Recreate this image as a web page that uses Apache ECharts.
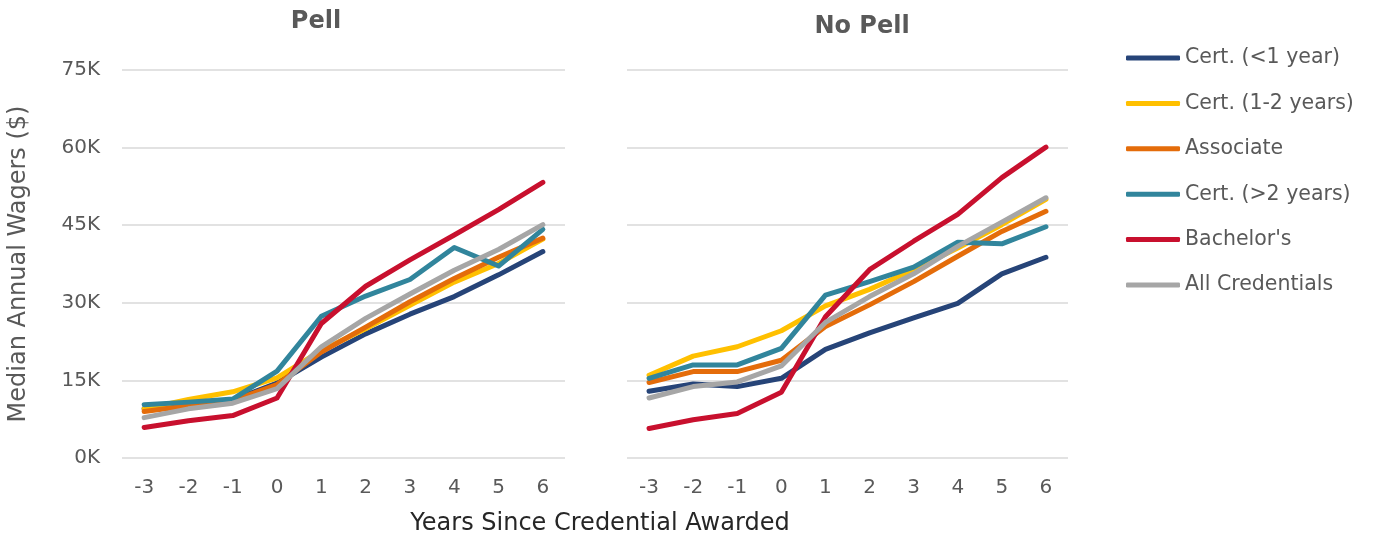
<!DOCTYPE html>
<html>
<head>
<meta charset="utf-8">
<script src="https://cdn.jsdelivr.net/npm/echarts@6/dist/echarts.min.js"></script>
<style>
  html, body { margin: 0; padding: 0; background: #fff; }
  #chart { width: 1375px; height: 543px; }
</style>
</head>
<body>
<div id="chart"></div>
<script>
// years since credential awarded
var years = ['-3', '-2', '-1', '0', '1', '2', '3', '4', '5', '6'];
var seriesNames = ['Cert. (<1 year)', 'Cert. (1-2 years)', 'Associate', 'Cert. (>2 years)', "Bachelor's", 'All Credentials'];
var colors = ['#264478', '#FFC000', '#E46C0A', '#31859C', '#C8102E', '#A6A6A6'];

// median annual wages, thousands of $ -- Pell recipients
var pellLess1 = [9.5, 10.5, 11.2, 14.5, 19.5, 24.0, 27.8, 31.2, 35.4, 39.9];
var pell1to2 = [9.5, 11.3, 12.8, 15.5, 20.8, 25.0, 29.5, 34.0, 37.6, 42.3];
var pellAssoc = [9.0, 10.1, 11.1, 14.2, 20.5, 25.3, 30.2, 34.7, 38.8, 42.5];
var pellOver2 = [10.3, 10.8, 11.4, 16.8, 27.4, 31.3, 34.5, 40.7, 37.1, 44.2];
var pellBach = [5.9, 7.2, 8.2, 11.6, 26.0, 33.2, 38.3, 43.1, 48.0, 53.3];
var pellAll = [7.8, 9.5, 10.6, 13.4, 21.5, 27.0, 31.7, 36.3, 40.3, 45.1];

// no Pell
var noLess1 = [12.9, 14.3, 13.8, 15.4, 21.0, 24.2, 27.1, 29.9, 35.6, 38.8];
var no1to2 = [16.0, 19.7, 21.5, 24.6, 29.4, 32.6, 36.4, 40.6, 45.1, 50.0];
var noAssoc = [14.6, 16.7, 16.7, 18.9, 25.4, 29.6, 34.1, 39.0, 43.8, 47.7];
var noOver2 = [15.4, 18.0, 18.0, 21.2, 31.5, 34.1, 36.9, 41.7, 41.4, 44.7];
var noBach = [5.7, 7.4, 8.6, 12.7, 27.3, 36.4, 41.9, 47.1, 54.2, 60.1];
var noAll = [11.6, 13.8, 14.7, 17.8, 26.2, 31.2, 35.6, 40.9, 45.6, 50.3];

var pellData = [pellLess1, pell1to2, pellAssoc, pellOver2, pellBach, pellAll];
var noPellData = [noLess1, no1to2, noAssoc, noOver2, noBach, noAll];

var font = 'DejaVu Sans';
var grey = '#595959';

var chart = echarts.init(document.getElementById('chart'));

var series = [];
[pellData, noPellData].forEach(function (group, g) {
    group.forEach(function (vals, i) {
        series.push({
            name: seriesNames[i],
            type: 'line',
            xAxisIndex: g,
            yAxisIndex: g,
            data: vals,
            symbol: 'none',
            color: colors[i],
            lineStyle: { width: 5, color: colors[i], cap: 'round', join: 'round' },
            z: 2 + i
        });
    });
});

function makeX(idx) {
    return {
        type: 'category',
        gridIndex: idx,
        data: years,
        boundaryGap: true,
        axisLine: { show: false },
        axisTick: { show: false },
        axisLabel: { color: grey, fontFamily: font, fontSize: 20, margin: 20 }
    };
}
function makeY(idx) {
    return {
        type: 'value',
        gridIndex: idx,
        min: 0,
        max: 75,
        interval: 15,
        axisLine: { show: false },
        axisTick: { show: false },
        splitLine: { lineStyle: { color: '#d9d9d9', width: 1.5 } },
        axisLabel: {
            show: idx === 0,
            color: grey, fontFamily: font, fontSize: 20, margin: 22,
            formatter: '{value}K'
        }
    };
}

var option = {
    animation: false,
    textStyle: { fontFamily: font },
    title: [
        { text: 'Pell', left: 311, top: 5, textAlign: 'center',
          textStyle: { color: grey, fontFamily: font, fontSize: 24, fontWeight: 'bold' } },
        { text: 'No Pell', left: 857, top: 10, textAlign: 'center',
          textStyle: { color: grey, fontFamily: font, fontSize: 24, fontWeight: 'bold' } }
    ],
    legend: {
        orient: 'vertical',
        left: 1126,
        top: 46,
        padding: 0,
        icon: 'roundRect',
        itemWidth: 54,
        itemHeight: 5,
        itemGap: 21.4,
        data: seriesNames,
        textStyle: { color: grey, fontFamily: font, fontSize: 20.5, lineHeight: 24 }
    },
    grid: [
        { left: 122, top: 70, width: 443, height: 388 },
        { left: 627, top: 70, width: 441, height: 388 }
    ],
    xAxis: [makeX(0), makeX(1)],
    yAxis: [makeY(0), makeY(1)],
    graphic: [
        { type: 'text', x: 600, y: 512,
          style: { text: 'Years Since Credential Awarded', fill: '#262626', font: '24px "' + font + '"',
                   textAlign: 'center', textVerticalAlign: 'top' } },
        { type: 'text', rotation: Math.PI / 2, x: 7, y: 264,
          style: { text: 'Median Annual Wagers ($)', fill: grey, font: '24px "' + font + '"',
                   textAlign: 'center', textVerticalAlign: 'top' } }
    ],
    series: series
};
chart.setOption(option);
</script>
</body>
</html>
